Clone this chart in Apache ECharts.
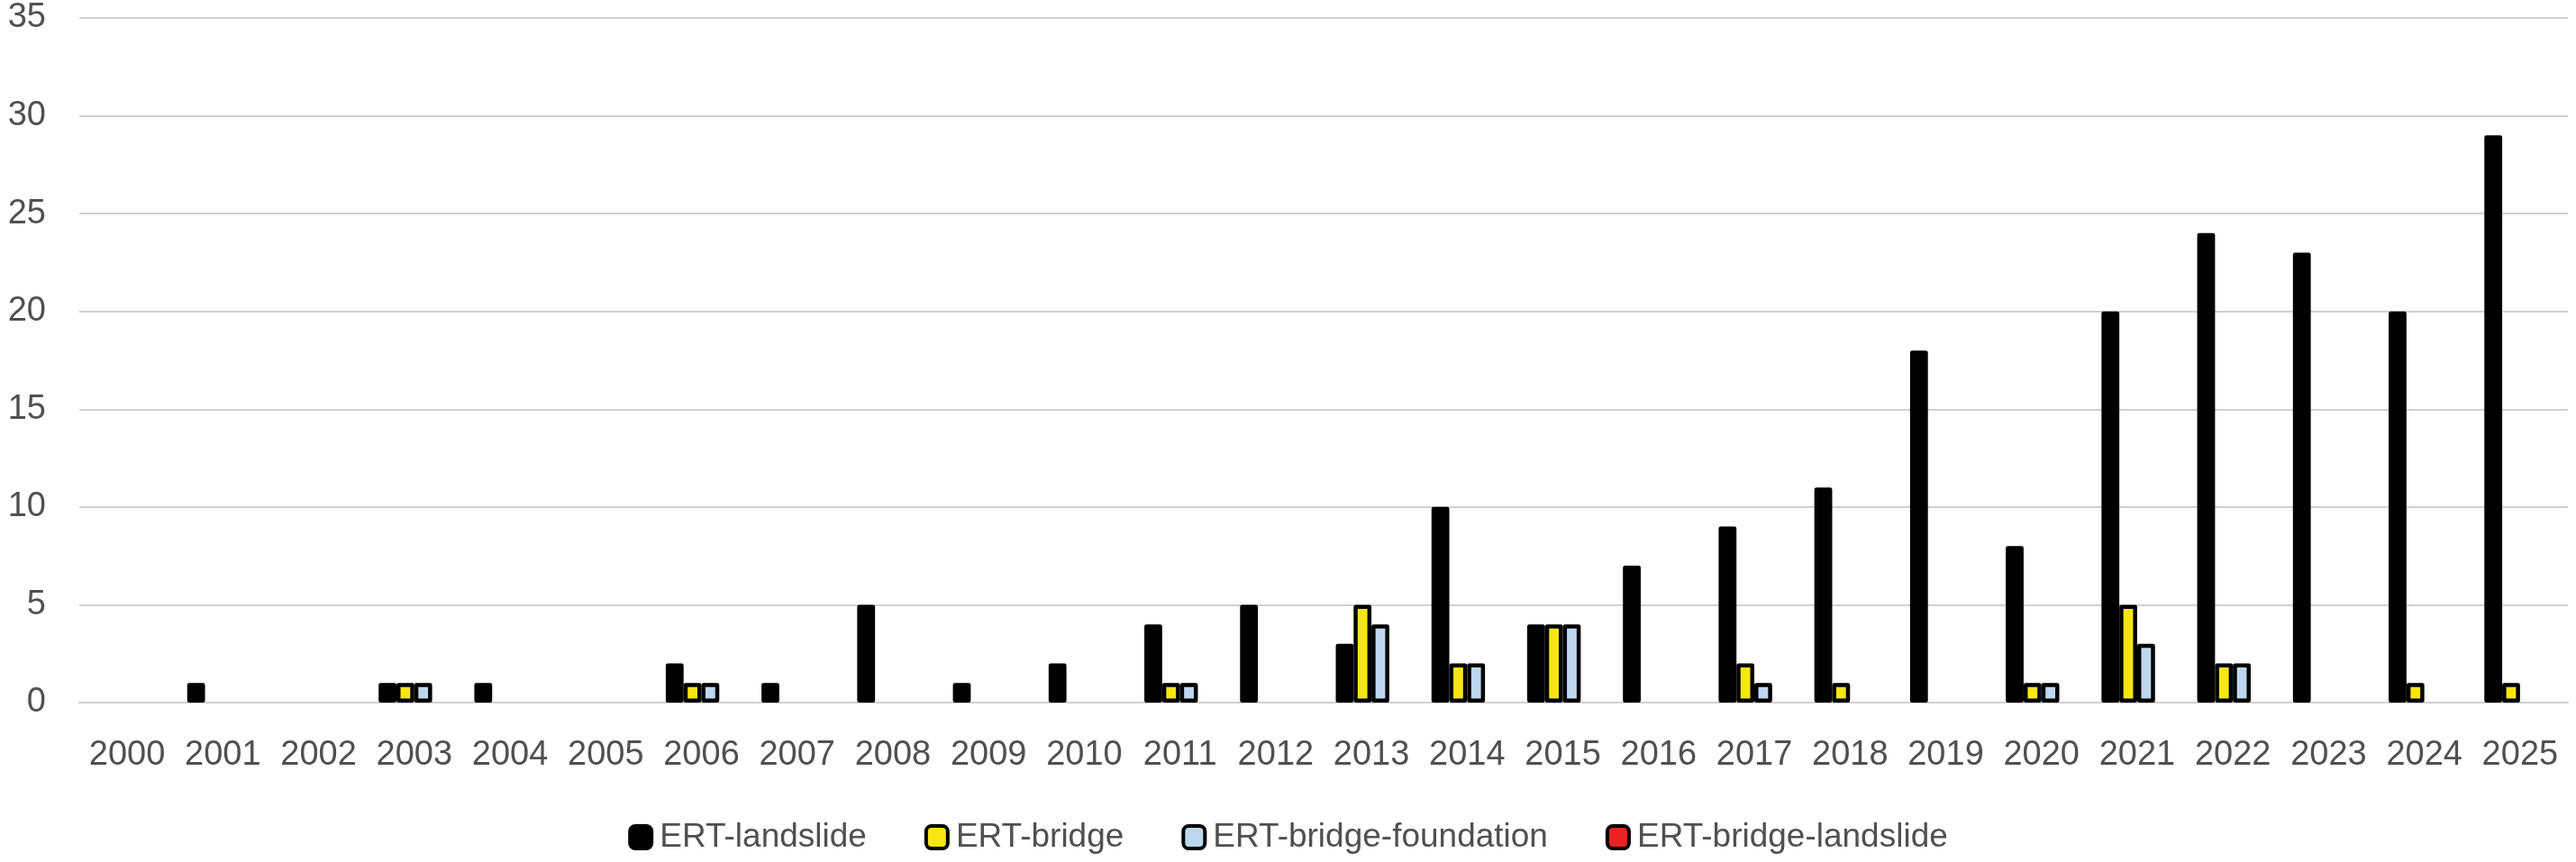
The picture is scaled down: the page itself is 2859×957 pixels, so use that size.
<!DOCTYPE html>
<html>
<head>
<meta charset="utf-8">
<script src="https://cdn.jsdelivr.net/npm/echarts@6/dist/echarts.min.js"></script>
<style>
html,body{margin:0;padding:0;background:#fff;}
#chart{width:2859px;height:957px;}
</style>
</head>
<body>
<div id="chart"></div>
<script>
const years = ['2000','2001','2002','2003','2004','2005','2006','2007','2008','2009','2010','2011','2012','2013','2014','2015','2016','2017','2018','2019','2020','2021','2022','2023','2024','2025'];
const ertLandslide = [0,1,0,1,1,0,2,1,5,1,2,4,5,3,10,4,7,9,11,18,8,20,24,23,20,29];
const ertBridge = [0,0,0,1,0,0,1,0,0,0,0,1,0,5,2,4,0,2,1,0,1,5,2,0,1,1];
const ertBridgeFoundation = [0,0,0,1,0,0,1,0,0,0,0,1,0,4,2,4,0,1,0,0,1,3,2,0,0,0];
const ertBridgeLandslide = [0,0,0,0,0,0,0,0,0,0,0,0,0,0,0,0,0,0,0,0,0,0,0,0,0,0];
const yTicks = [0,5,10,15,20,25,30,35];

const seriesDefs = [
  {name:'ERT-landslide', data:ertLandslide, color:'#000000'},
  {name:'ERT-bridge', data:ertBridge, color:'#F5E614'},
  {name:'ERT-bridge-foundation', data:ertBridgeFoundation, color:'#BDD7EE'},
  {name:'ERT-bridge-landslide', data:ertBridgeLandslide, color:'#EE2222'}
];

const FONT = 'Liberation Sans';
const TXT = '#505050';

const chart = echarts.init(document.getElementById('chart'));
chart.setOption({
  animation:false,
  backgroundColor:'#fff',
  grid:{left:88, right:9, top:20, bottom:177, containLabel:false},
  legend:{
    top:906, left:'center',
    itemWidth:24, itemHeight:25, itemGap:64,
    textStyle:{fontFamily:FONT, fontSize:37, color:TXT, padding:[0,0,0,4]},
    itemStyle:{borderWidth:4, borderColor:'#000'},
    data:seriesDefs.map(s=>s.name)
  },
  xAxis:{
    type:'category', data:years,
    axisLine:{show:true, lineStyle:{color:'#D0D0D0', width:2}},
    axisTick:{show:false},
    axisLabel:{fontFamily:FONT, fontSize:38, color:TXT, margin:40, interval:0}
  },
  yAxis:{
    type:'value', min:yTicks[0], max:yTicks[yTicks.length-1], interval:5,
    axisLine:{show:false}, axisTick:{show:false},
    splitLine:{lineStyle:{color:'#D0D0D0', width:2}},
    axisLabel:{fontFamily:FONT, fontSize:38, color:TXT, margin:37}
  },
  series:seriesDefs.map(s=>({
    name:s.name, type:'bar',
    barWidth:19.8, barGap:'0%',
    itemStyle:{color:s.color, borderColor:'#000', borderWidth:4.5, borderJoin:'round'},
    data:s.data.map(v => v === 0 ? {value:v, itemStyle:{borderWidth:0}} : v)
  }))
});
</script>
</body>
</html>
